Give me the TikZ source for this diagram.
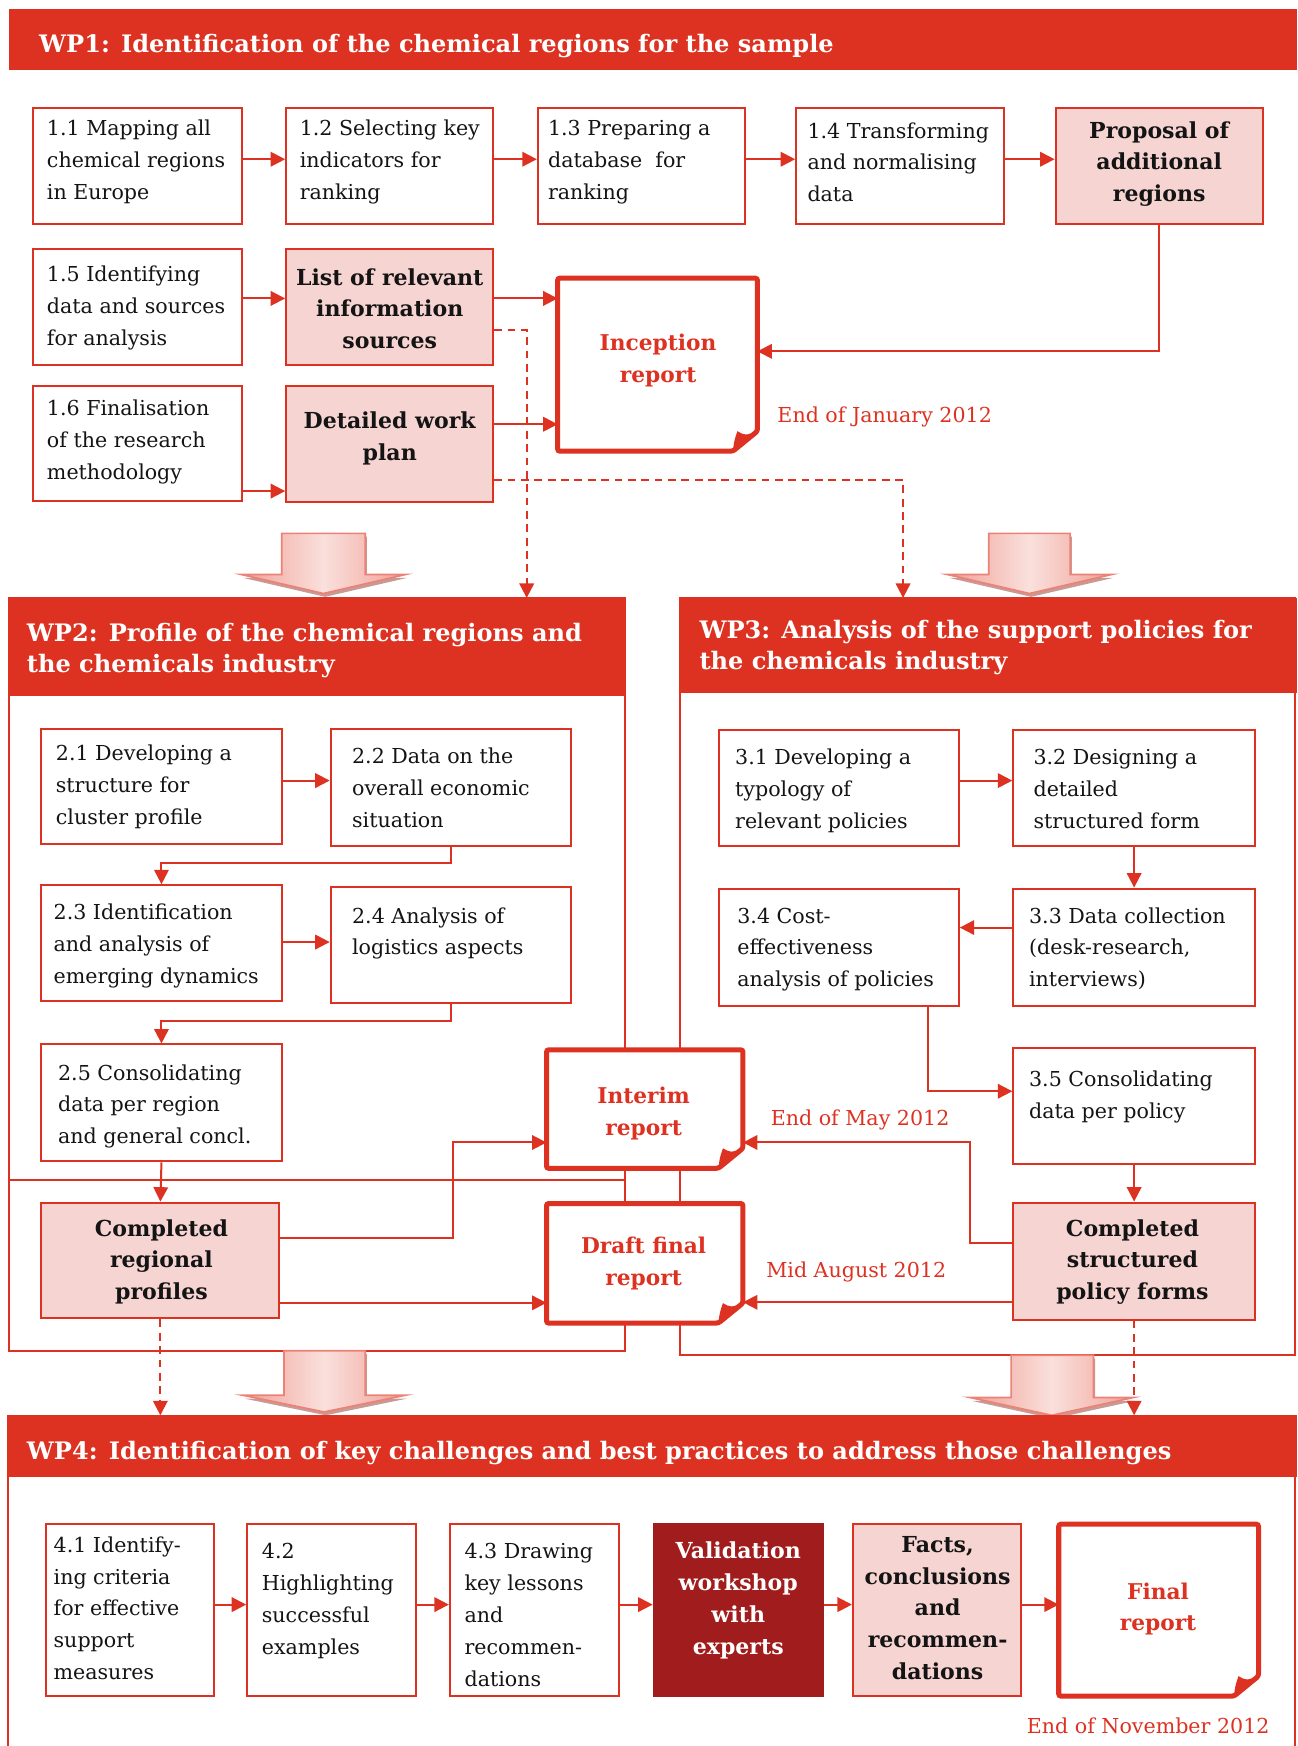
\documentclass[tikz,border=0pt]{standalone}
\usepackage{fontspec}
\setmainfont{DejaVu Serif}
\usetikzlibrary{arrows.meta,fit,shadows,calc}
\definecolor{wpred}{RGB}{221,50,33}
\definecolor{wppink}{RGB}{246,212,210}
\definecolor{wpdark}{RGB}{161,29,29}
\definecolor{bigmid}{RGB}{250,224,220}
\definecolor{bigedge}{RGB}{240,160,150}
\definecolor{bigline}{RGB}{236,130,118}
\definecolor{txt}{RGB}{20,20,20}

\tikzset{
  wpline/.style={draw=wpred, line width=1.8pt},
  hdr/.style={fill=wpred, inner sep=0pt},
  hdrtext/.style={text=white, inner sep=0pt, align=left, font=\fontsize{21.6}{28}\selectfont\bfseries},
  taskB/.style={draw=wpred, line width=1.8pt, fill=white, inner sep=0pt},
  outB/.style={taskB, fill=wppink},
  valB/.style={taskB, fill=wpdark, draw=wpdark},
  taskT/.style={text=txt, inner sep=0pt, align=left, anchor=base west, font=\fontsize{18.5}{28.6}\selectfont},
  outT/.style={text=txt, inner sep=0pt, align=center, anchor=base, font=\fontsize{19.8}{28.6}\selectfont\bfseries},
  valT/.style={outT, text=white},
  repT/.style={text=wpred, inner sep=0pt, align=center, anchor=base, font=\fontsize{19.5}{28.6}\selectfont\bfseries},
  datetext/.style={text=wpred, inner sep=0pt, anchor=base west, font=\fontsize{18.5}{22}\selectfont},
  conn/.style={draw=wpred, line width=1.8pt, -{Triangle[length=13pt,width=13pt]}},
  dconn/.style={conn, dash pattern=on 7pt off 5pt},
  repline/.style={draw=wpred, line width=4.5pt, fill=white, rounded corners=2pt},
  bigarrow/.style={draw=bigline, line width=1.5pt, left color=bigedge, right color=bigedge, middle color=bigmid,
     drop shadow={shadow xshift=1.5pt, shadow yshift=-3pt, fill=black!40!wpred, opacity=0.45}},
}

% box: style, name, x1, y1, x2, y2, text x, last baseline, text
\newcommand\bx[9]{%
  \node[#1B, fit={(#3,#4) (#5,#6)}] (#2) {};
  \node[#1T] (#2t) at (#7,#8) {#9};}
% report: name, x1, y1, x2, y2, centre x, last baseline, text
\newcommand\rep[8]{%
  \node[fit={(#2,#3) (#4,#5)}, inner sep=0pt] (#1) {};
  \path[repline] (#1.north west) -- (#1.north east) -- ($(#1.south east)+(0,-18)$)
     -- ($(#1.south east)+(-22,0)$) -- (#1.south west) -- cycle;
  \fill[wpred] ($(#1.south east)+(-22,0)$) .. controls ($(#1.south east)+(-21,-9)$) .. ($(#1.south east)+(-18,-18)$)
     .. controls ($(#1.south east)+(-11,-14)$) .. ($(#1.south east)+(0,-18)$) -- cycle;
  \node[repT] (#1t) at (#6,#7) {#8};}

\begin{document}
\begin{tikzpicture}[x=1pt,y=-1pt]
\useasboundingbox (0,0) rectangle (1165,1568);

% work package frames
\node[fit={(8,537) (561,1213)}, inner sep=0pt, wpline] (wp2box) {};
\node[fit={(611,537) (1163,1217)}, inner sep=0pt, wpline] (wp3box) {};
\draw[wpline] (8,1060) -- (561,1060);
\draw[wpline] (7,1271) -- (7,1570);
\draw[wpline] (1163,1271) -- (1163,1570);

% big arrows
\path[bigarrow] (253,479) -- (328,479) -- (328,516) -- (364,516) -- (290.5,533) -- (217,516) -- (253,516) -- cycle;
\path[bigarrow] (888,479) -- (961,479) -- (961,516) -- (998,516) -- (924.5,533) -- (851,516) -- (888,516) -- cycle;
\path[bigarrow] (255,1213) -- (328,1213) -- (328,1253) -- (364,1253) -- (291,1268) -- (218,1253) -- (255,1253) -- cycle;
\path[bigarrow] (908,1217) -- (982,1217) -- (982,1255) -- (1018,1255) -- (944.5,1271) -- (871,1255) -- (908,1255) -- cycle;

% headers
\node[hdr, fit={(8,8) (1165,63)}] (wp1) {};
\node[hdrtext, anchor=base west] (wp1t) at (35,47) {WP1: Identification of the chemical regions for the sample};
\node[hdr, fit={(8,537) (561,625)}] (wp2) {};
\node[hdrtext, anchor=base west] (wp2t) at (24,604) {WP2: Profile of the chemical regions and\\the chemicals industry};
\node[hdr, fit={(611,537) (1165,622)}] (wp3) {};
\node[hdrtext, anchor=base west] (wp3t) at (628,601) {WP3: Analysis of the support policies for\\the chemicals industry};
\node[hdr, fit={(8,1271) (1165,1326)}] (wp4) {};
\node[hdrtext, anchor=base west] (wp4t) at (24,1311) {WP4: Identification of key challenges and best practices to address those challenges};

% reports
\rep{inc}{501}{250}{680}{405}{591}{343.6}{Inception\\report}
\rep{int}{491}{943}{667}{1049}{578}{1019.6}{Interim\\report}
\rep{dft}{491}{1081}{667}{1188}{578}{1154.6}{Draft final\\report}
\rep{fin}{951}{1369}{1130}{1523}{1040}{1464.6}{Final\\report}

% WP1
\bx{task}{b11}{30}{97}{217}{201}{42}{179.2}{1.1 Mapping all\\chemical regions\\in Europe}
\bx{task}{b12}{257}{97}{443}{201}{269}{179.2}{1.2 Selecting key\\indicators for\\ranking}
\bx{task}{b13}{483}{97}{669}{201}{492}{179.2}{1.3 Preparing a\\database\ \ for\\ranking}
\bx{task}{b14}{715}{97}{902}{201}{725}{181.2}{1.4 Transforming\\and normalising\\data}
\bx{out}{prop}{948}{97}{1134}{201}{1041}{181.2}{Proposal of\\additional\\regions}
\bx{task}{b15}{30}{224}{217}{328}{42}{310.2}{1.5 Identifying\\data and sources\\for analysis}
\bx{out}{list}{257}{224}{443}{328}{350}{313.2}{List of relevant\\information\\sources}
\bx{task}{b16}{30}{347}{217}{450}{42}{430.2}{1.6 Finalisation\\of the research\\methodology}
\bx{out}{det}{257}{347}{443}{451}{350}{413.6}{Detailed work\\plan}

% WP2
\bx{task}{b21}{37}{655}{253}{758}{50}{740.2}{2.1 Developing a\\structure for\\cluster profile}
\bx{task}{b22}{297}{655}{513}{760}{316}{743.2}{2.2 Data on the\\overall economic\\situation}
\bx{task}{b23}{37}{795}{253}{899}{48}{883.2}{2.3 Identification\\and analysis of\\emerging dynamics}
\bx{task}{b24}{297}{797}{513}{901}{316}{857.6}{2.4 Analysis of\\logistics aspects}
\bx{task}{b25}{37}{938}{253}{1043}{52}{1027.2}{2.5 Consolidating\\data per region\\and general concl.}
\bx{out}{crp}{37}{1080}{251}{1184}{145}{1167.2}{Completed\\regional\\profiles}

% WP3
\bx{task}{b31}{646}{656}{861}{760}{660}{744.2}{3.1 Developing a\\typology of\\relevant policies}
\bx{task}{b32}{910}{656}{1127}{760}{928}{744.2}{3.2 Designing a\\detailed\\structured form}
\bx{task}{b33}{910}{798}{1127}{903}{924}{886.2}{3.3 Data collection\\(desk-research,\\interviews)}
\bx{task}{b34}{646}{798}{861}{903}{662}{886.2}{3.4 Cost-\\effectiveness\\analysis of policies}
\bx{task}{b35}{910}{941}{1127}{1045}{924}{1004.6}{3.5 Consolidating\\data per policy}
\bx{out}{csp}{910}{1080}{1127}{1185}{1017}{1167.2}{Completed\\structured\\policy forms}

% WP4
\bx{task}{b41}{41}{1369}{192}{1523}{48}{1508.4}{4.1 Identify-\\ing criteria\\for effective\\support\\measures}
\bx{task}{b42}{222}{1369}{374}{1523}{235}{1485.8}{4.2\\Highlighting\\successful\\examples}
\bx{task}{b43}{404}{1369}{556}{1523}{417}{1514.4}{4.3 Drawing\\key lessons\\and\\recommen-\\dations}
\bx{val}{val}{587}{1369}{739}{1523}{663}{1485.8}{Validation\\workshop\\with\\experts}
\bx{out}{fac}{766}{1369}{917}{1523}{842}{1508.4}{Facts,\\conclusions\\and\\recommen-\\dations}

% dates
\node[datetext] (date1) at (698,379) {End of January 2012};
\node[datetext] (date2) at (692,1011) {End of May 2012};
\node[datetext] (date3) at (688,1147) {Mid August 2012};
\node[datetext] (date4) at (922,1557) {End of November 2012};

% free ends of dashed connectors
\coordinate (ca) at (473,537);
\coordinate (cb) at (811,537);
\coordinate (cc) at (144,1271);
\coordinate (cd) at (1018.5,1271);

% WP1 connectors
\draw[conn] ([yshift=6pt]b11.east) -- ([yshift=6pt]b11.east -| b12.west);
\draw[conn] ([yshift=6pt]b12.east) -- ([yshift=6pt]b12.east -| b13.west);
\draw[conn] ([yshift=6pt]b13.east) -- ([yshift=6pt]b13.east -| b14.west);
\draw[conn] ([yshift=6pt]b14.east) -- ([yshift=6pt]b14.east -| prop.west);
\draw[conn] ([yshift=8pt]b15.east) -- ([yshift=8pt]b15.east -| list.west);
\draw[conn] ([yshift=8pt]list.east) -- ([yshift=8pt]list.east -| inc.west);
\draw[conn] (prop.south) |- ([yshift=12pt]inc.east);
\draw[conn] ([yshift=-42.5pt]b16.east) -- ([yshift=-42.5pt]b16.east -| det.west);
\draw[conn] ([yshift=18pt]det.east) -- ([yshift=18pt]det.east -| inc.west);
\draw[dconn] ([yshift=-20pt]list.east) -| (ca);
\draw[dconn] ([yshift=-32pt]det.east) -| (cb);

% WP2 connectors
\draw[conn] ([yshift=5.5pt]b21.east) -- ([yshift=5.5pt]b21.east -| b22.west);
\draw[conn] (b22.south) -- ++(0,14) -| (b23.north);
\draw[conn] ([yshift=1pt]b23.east) -- ([yshift=1pt]b23.east -| b24.west);
\draw[conn] (b24.south) -- ++(0,15) -| (b25.north);
\draw[conn] (b25.south) -- (crp.north);
\draw[conn] ([yshift=20pt]crp.east) -- ++(155,0) |- ([yshift=-30pt]int.west);
\draw[conn] ([yshift=-38pt]crp.east) -- ([yshift=-38pt]crp.east -| dft.west);
\draw[dconn] (crp.south) -- (cc);

% WP3 connectors
\draw[conn] ([yshift=7pt]b31.east) -- ([yshift=7pt]b31.east -| b32.west);
\draw[conn] (b32.south) -- (b33.north);
\draw[conn] ([yshift=17.5pt]b33.west) -- ([yshift=17.5pt]b33.west -| b34.east);
\draw[conn] ([xshift=79.5pt]b34.south) |- ([yshift=13pt]b35.west);
\draw[conn] (b35.south) -- (csp.north);
\draw[conn] ([yshift=16.5pt]csp.west) -- ++(-38,0) |- ([yshift=-30pt]int.east);
\draw[conn] ([yshift=-37pt]csp.west) -- ([yshift=-37pt]csp.west -| dft.east);
\draw[dconn] (csp.south) -- (cd);

% WP4 connectors
\draw[conn] ([yshift=5pt]b41.east) -- ([yshift=5pt]b41.east -| b42.west);
\draw[conn] ([yshift=5pt]b42.east) -- ([yshift=5pt]b42.east -| b43.west);
\draw[conn] ([yshift=5pt]b43.east) -- ([yshift=5pt]b43.east -| val.west);
\draw[conn] ([yshift=5pt]val.east) -- ([yshift=5pt]val.east -| fac.west);
\draw[conn] ([yshift=5pt]fac.east) -- ([yshift=5pt]fac.east -| fin.west);
\end{tikzpicture}
\end{document}
